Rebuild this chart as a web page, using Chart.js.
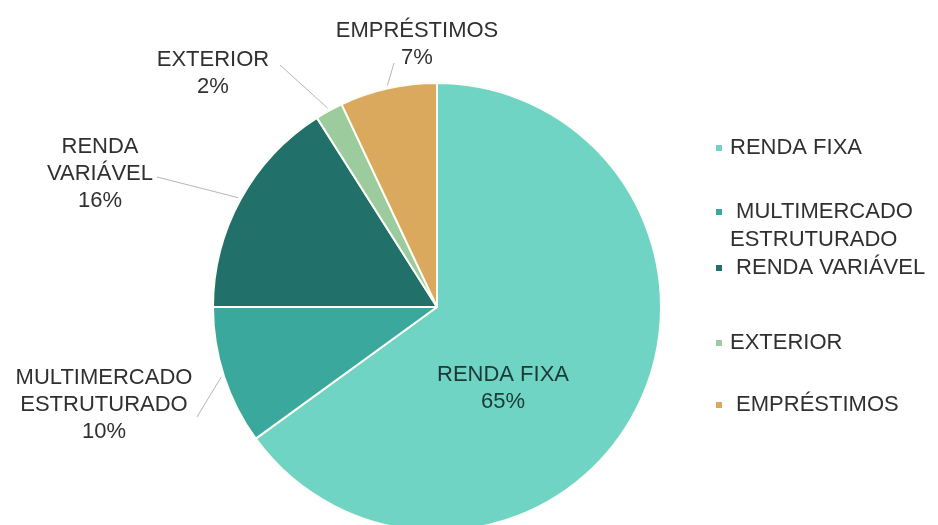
<!DOCTYPE html>
<html>
<head>
<meta charset="utf-8">
<script src="https://cdn.jsdelivr.net/npm/chart.js@4/dist/chart.umd.min.js"></script>
<style>
  html,body{margin:0;padding:0;background:#fff;overflow:hidden;width:938px;height:525px}
  #wrap{position:relative;width:938px;height:560px}
</style>
</head>
<body>
<div id="wrap"><canvas id="c" width="938" height="560"></canvas></div>
<script>
// Carteira – Pizza mit Beschriftung aussen + Legende rechts
var categories = ["RENDA FIXA", "MULTIMERCADO ESTRUTURADO", "RENDA VARIÁVEL", "EXTERIOR", "EMPRÉSTIMOS"];
var shares = [65, 10, 16, 2, 7];
var sliceLabels = [["RENDA FIXA", "65%"], ["MULTIMERCADO", "ESTRUTURADO", "10%"], ["RENDA", "VARIÁVEL", "16%"], ["EXTERIOR", "2%"], ["EMPRÉSTIMOS", "7%"]];
var legendLines = [["RENDA FIXA"], [" MULTIMERCADO", "ESTRUTURADO"], [" RENDA VARIÁVEL"], ["EXTERIOR"], [" EMPRÉSTIMOS"]];

var COLORS = ["#70d4c4", "#3aa89c", "#21706a", "#9ccb9e", "#dba95e"];
var FONT = "22px 'Liberation Sans', Arial, sans-serif";
var TXT = "#303030";

// Layout (Textpositionen, keine Daten)
var labelAt = [ {x:503, y:375, inside:true},
                {x:104, y:378, from:[197,417]},
                {x:100, y:147, from:[157,177]},
                {x:213, y:60,  from:[280,65]},
                {x:417, y:31,  from:[394,63]} ];
var LINE_H = 27;
var legendY = [148, 212, 268, 343, 405];
var LEG_X = 719, LEG_TX = 730;

var labelsPlugin = {
  id: "outLabels",
  afterDatasetsDraw: function(chart){
    var ctx = chart.ctx;
    var arcs = chart.getDatasetMeta(0).data;
    ctx.save();
    ctx.font = FONT;
    ctx.textAlign = "center"; ctx.textBaseline = "middle";
    sliceLabels.forEach(function(lines, i){
      var p = labelAt[i];
      if(!p.inside){
        var a = arcs[i];
        var mid = (a.startAngle + a.endAngle) / 2;
        var r = a.outerRadius + 3;
        ctx.strokeStyle = "#b5b5b5"; ctx.lineWidth = 1;
        ctx.beginPath();
        ctx.moveTo(p.from[0], p.from[1]);
        ctx.lineTo(a.x + Math.cos(mid) * r, a.y + Math.sin(mid) * r);
        ctx.stroke();
      }
      ctx.fillStyle = p.inside ? "#1b3935" : TXT;
      lines.forEach(function(t, k){ ctx.fillText(t, p.x, p.y + k * LINE_H); });
    });
    // Legende
    ctx.textAlign = "left";
    legendLines.forEach(function(lines, i){
      ctx.fillStyle = COLORS[i];
      ctx.fillRect(LEG_X - 3, legendY[i] - 3, 6, 6);
      ctx.fillStyle = TXT;
      lines.forEach(function(t, k){ ctx.fillText(t, LEG_TX, legendY[i] + k * 28); });
    });
    ctx.restore();
  }
};

new Chart(document.getElementById("c"), {
  type: "pie",
  data: {
    labels: categories,
    datasets: [{ data: shares, backgroundColor: COLORS, borderColor: "#fdfdf5", borderWidth: 2 }]
  },
  options: {
    responsive: false, animation: false,
    radius: 224,
    layout: { padding: { left: 213, right: 277, top: 83, bottom: 29 } },
    plugins: { legend: { display: false }, tooltip: { enabled: false } }
  },
  plugins: [labelsPlugin]
});
</script>
</body>
</html>
